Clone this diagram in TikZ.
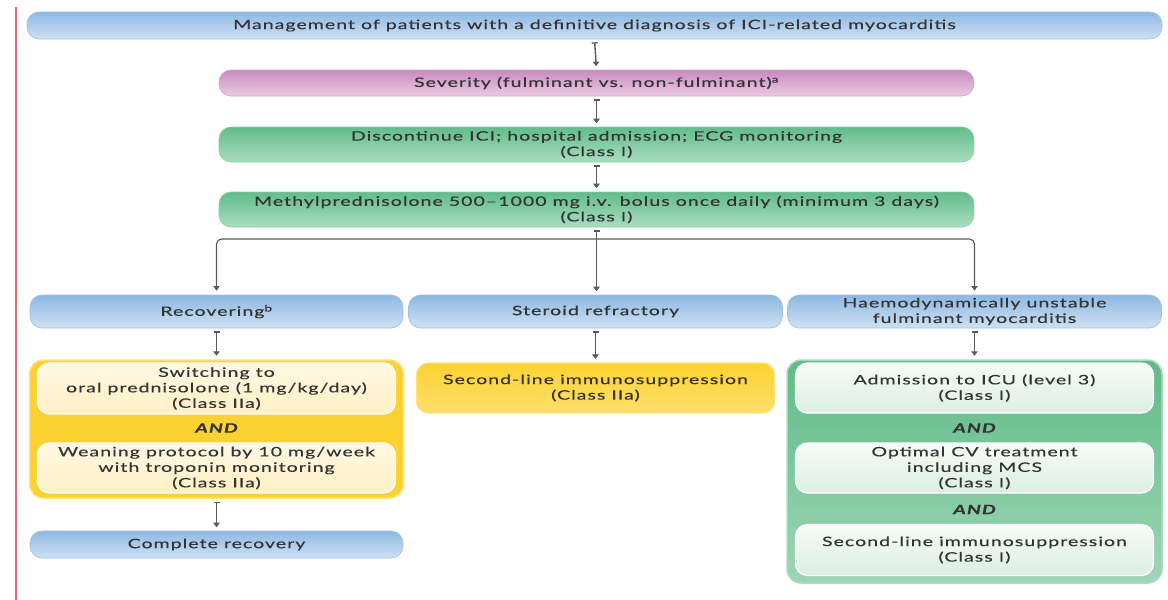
\documentclass[tikz,border=0pt]{standalone}
\usepackage{fontspec}
\setmainfont{Lato}[FakeStretch=1.5,LetterSpace=8,FakeBold=0.4]
\usetikzlibrary{arrows.meta,calc}
\definecolor{txt}{HTML}{333333}
\definecolor{blueT}{HTML}{8DB8E2}
\definecolor{blueB}{HTML}{CFE1F3}
\definecolor{blueE}{HTML}{9DC0E4}
\definecolor{pinkT}{HTML}{C88BC0}
\definecolor{pinkB}{HTML}{EACBE4}
\definecolor{pinkE}{HTML}{D3A2CC}
\definecolor{grnT}{HTML}{62BC8A}
\definecolor{grnB}{HTML}{A9DDBF}
\definecolor{grnE}{HTML}{8CCCA8}
\definecolor{yelC}{HTML}{FCD232}
\definecolor{yelE}{HTML}{FFE27A}
\definecolor{creamT}{HTML}{FFF8E4}
\definecolor{creamB}{HTML}{FFF0C4}
\definecolor{gcT}{HTML}{62BA88}
\definecolor{gcB}{HTML}{9DD6B6}
\definecolor{ginT}{HTML}{F6FBF7}
\definecolor{ginB}{HTML}{DCEFE3}
\definecolor{arrc}{HTML}{5A5A5A}
\definecolor{redl}{HTML}{D9707A}
\tikzset{
  base/.style={rounded corners=12pt, text=txt, align=center, inner sep=0pt,
    font=\fontsize{13}{15.5}\selectfont},
  bluebox/.style={base, top color=blueT, bottom color=blueB, draw=blueE, line width=0.6pt},
  pinkbox/.style={base, top color=pinkT, bottom color=pinkB, draw=pinkE, line width=0.6pt},
  grnbox/.style={base, top color=grnT, bottom color=grnB, draw=grnE, line width=0.6pt},
  yelcont/.style={base, rounded corners=14pt, fill=yelC, draw=yelE, line width=1.5pt},
  yelbox/.style={base, top color=yelC, bottom color=yelE!80!yelC, draw=yelE, line width=1.2pt},
  creambox/.style={base, top color=creamT, bottom color=creamB, draw=white, line width=1.2pt},
  grncont/.style={base, rounded corners=14pt, top color=gcT, bottom color=gcB, draw=grnB, line width=1.5pt},
  ginbox/.style={base, top color=ginT, bottom color=ginB, draw=white, line width=1.2pt},
  andlab/.style={text=txt, font=\fontsize{13}{14}\selectfont\bfseries\itshape, inner sep=0pt},
  conn/.style={draw=arrc, line width=1.4pt, {Bar[width=6pt,line width=1.3pt]}-{Triangle[width=6.5pt,length=4.5pt]},
    shorten <=3pt, shorten >=3.5pt},
  branch/.style={draw=arrc, line width=1.1pt, -{Triangle[width=6pt,length=4.5pt]}, rounded corners=5pt, shorten >=4pt}
}
\begin{document}
\begin{tikzpicture}[x=1pt,y=-1pt]
\useasboundingbox (0,0) rectangle (1168,600);
\fill[white] (0,0) rectangle (1168,600);
\draw[redl, line width=2pt] (16,7) -- (16,600);

\node[bluebox, minimum width=1135pt, minimum height=27pt] (mgmt) at (594.5,25.5)
  {Management of patients with a definitive diagnosis of ICI-related myocarditis};
\node[pinkbox, minimum width=755pt, minimum height=26pt] (sev) at (596.5,83)
  {Severity (fulminant vs. non-fulminant)\textsuperscript{a}};
\node[grnbox, minimum width=755pt, minimum height=35pt] (disc) at (596.5,144.5)
  {Discontinue ICI; hospital admission; ECG monitoring\\(Class I)};
\node[grnbox, minimum width=755pt, minimum height=35pt] (meth) at (596.5,209.5)
  {Methylprednisolone 500–1000 mg i.v. bolus once daily (minimum 3 days)\\(Class I)};

\node[bluebox, minimum width=373pt, minimum height=33pt] (rec) at (216.5,311.5) {Recovering\textsuperscript{b}};
\node[bluebox, minimum width=374pt, minimum height=33pt] (ster) at (595.5,311.5) {Steroid refractory};
\node[bluebox, minimum width=374pt, minimum height=33pt] (haem) at (974.5,311.5)
  {Haemodynamically unstable\\fulminant myocarditis};

% left column
\node[yelcont, minimum width=374pt, minimum height=138pt] (ycont) at (216.5,429) {};
\node[creambox, minimum width=358pt, minimum height=51pt] (oral) at (216.5,388.5)
  {Switching to\\oral prednisolone (1 mg/kg/day)\\(Class IIa)};
\node[andlab] (and1) at (216.5,428) {AND};
\node[creambox, minimum width=358pt, minimum height=50pt] (wean) at (216.5,468)
  {Weaning protocol by 10 mg/week\\with troponin monitoring\\(Class IIa)};
\node[bluebox, minimum width=373pt, minimum height=27pt] (comp) at (216.5,544.5) {Complete recovery};

% middle column
\node[yelbox, minimum width=358pt, minimum height=50pt] (sec) at (595.5,388)
  {Second-line immunosuppression\\(Class IIa)};

% right column
\node[grncont, minimum width=375pt, minimum height=223pt] (gcont) at (974.5,471.5) {};
\node[ginbox, minimum width=358pt, minimum height=50pt] (icu) at (974.5,388)
  {Admission to ICU (level 3)\\(Class I)};
\node[andlab] (and2) at (974.5,428) {AND};
\node[ginbox, minimum width=358pt, minimum height=50pt] (cv) at (974.5,468)
  {Optimal CV treatment\\including MCS\\(Class I)};
\node[andlab] (and3) at (974.5,509.5) {AND};
\node[ginbox, minimum width=358pt, minimum height=51pt] (sec2) at (974.5,550)
  {Second-line immunosuppression\\(Class I)};

% connectors
\draw[conn] (mgmt.south) -- (sev.north);
\draw[conn] (sev.south) -- (disc.north);
\draw[conn] (disc.south) -- (meth.north);
\draw[conn] (meth.south) -- (meth.south |- ster.north);
\coordinate (br) at (596.5,239);
\draw[branch] (br) -| (rec.north);
\draw[branch] (br) -| (haem.north);
\draw[conn] (rec.south) -- (ycont.north);
\draw[conn] (ster.south) -- (sec.north);
\draw[conn] (haem.south) -- (gcont.north);
\draw[conn] (ycont.south) -- (comp.north);
\end{tikzpicture}
\end{document}
